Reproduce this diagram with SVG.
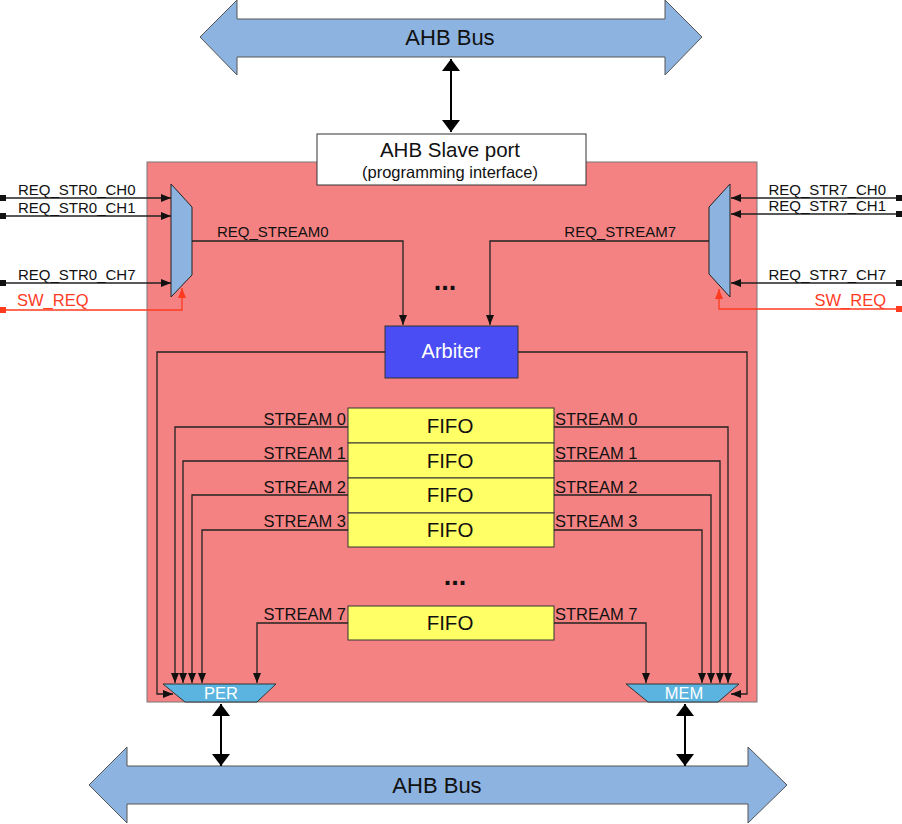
<svg xmlns="http://www.w3.org/2000/svg" width="902" height="824" viewBox="0 0 902 824">
<style>
text{font-family:"Liberation Sans",Arial,sans-serif;fill:#111}
.bus{fill:#8DB3E0;stroke:#555;stroke-width:1}
.w{stroke:#222;stroke-width:1.3;fill:none}
.r{stroke:#FF3B1F;stroke-width:1.3;fill:none}
.big{stroke:#000;stroke-width:2;fill:none}
.lbl{font-size:15px}
.slbl{font-size:16.5px}
.fifo{fill:#FFFF66;stroke:#333;stroke-width:1}
.ft{font-size:20.5px}
</style>
<defs>
<marker id="a" viewBox="0 0 10 8" refX="10" refY="4" markerWidth="10" markerHeight="8" markerUnits="userSpaceOnUse" orient="auto"><path d="M0,0L10,4L0,8z" fill="#111"/></marker>
<marker id="ar" viewBox="0 0 10 8" refX="10" refY="4" markerWidth="10" markerHeight="8" markerUnits="userSpaceOnUse" orient="auto"><path d="M0,0L10,4L0,8z" fill="#FF3B1F"/></marker>
<marker id="sq" viewBox="0 0 6 6" refX="3" refY="3" markerWidth="6" markerHeight="6" markerUnits="userSpaceOnUse"><rect width="6" height="6" fill="#111"/></marker>
<marker id="sqr" viewBox="0 0 6 6" refX="3" refY="3" markerWidth="6" markerHeight="6" markerUnits="userSpaceOnUse"><rect width="6" height="6" fill="#FF3B1F"/></marker>
<marker id="b" viewBox="0 0 12 18" refX="12" refY="9" markerWidth="12" markerHeight="18" markerUnits="userSpaceOnUse" orient="auto-start-reverse"><path d="M0,0L12,9L0,18z" fill="#000"/></marker>
</defs>

<g id="ahb-top">
<path class="bus" d="M200,37L237,0L237,19L665,19L665,0L702,37L665,75L665,57L237,57L237,75Z"/>
<text x="450" y="45" font-size="22" text-anchor="middle">AHB Bus</text>
</g>
<g id="ahb-bottom">
<path class="bus" d="M89,785L127,747L127,766L748,766L748,747L787,785L748,823L748,804L127,804L127,823Z"/>
<text x="437" y="793" font-size="22" text-anchor="middle">AHB Bus</text>
</g>

<g id="dma">
<rect x="147" y="162" width="610" height="540" fill="#F48282" stroke="#777" stroke-width="1"/>
</g>

<g id="slave-port">
<rect x="317" y="134" width="269" height="51" fill="#fff" stroke="#333" stroke-width="1"/>
<text x="450" y="157" font-size="20.5" text-anchor="middle">AHB Slave port</text>
<text x="450" y="178" font-size="16.5" text-anchor="middle">(programming interface)</text>
</g>

<g id="mux0">
<path d="M171,184L192,207L192,275L171,297Z" fill="#8DB3E0" stroke="#222" stroke-width="1"/>
</g>
<g id="mux7">
<path d="M730,184L709,207L709,274L730,297Z" fill="#8DB3E0" stroke="#222" stroke-width="1"/>
</g>

<g id="arbiter">
<rect x="385" y="326" width="133" height="52" fill="#4A4CF4" stroke="#333" stroke-width="1"/>
<text x="451" y="358" font-size="20" text-anchor="middle" style="fill:#fff">Arbiter</text>
</g>

<g id="fifos">
<rect class="fifo" x="348" y="408" width="206" height="35"/>
<rect class="fifo" x="348" y="443" width="206" height="35"/>
<rect class="fifo" x="348" y="478" width="206" height="35"/>
<rect class="fifo" x="348" y="513" width="206" height="34"/>
<rect class="fifo" x="348" y="606" width="206" height="34"/>
<text class="ft" x="450" y="433" text-anchor="middle">FIFO</text>
<text class="ft" x="450" y="468" text-anchor="middle">FIFO</text>
<text class="ft" x="450" y="502" text-anchor="middle">FIFO</text>
<text class="ft" x="450" y="537" text-anchor="middle">FIFO</text>
<text class="ft" x="450" y="630" text-anchor="middle">FIFO</text>
</g>

<g id="per">
<path d="M163,684L276,684L257,702L185,702Z" fill="#5BB4E0" stroke="#333" stroke-width="1"/>
<text x="221" y="699" font-size="16.5" text-anchor="middle" style="fill:#fff">PER</text>
</g>
<g id="mem">
<path d="M626,684L739,684L718,702L648,702Z" fill="#5BB4E0" stroke="#333" stroke-width="1"/>
<text x="684" y="699" font-size="16.5" text-anchor="middle" style="fill:#fff">MEM</text>
</g>

<g id="dots">
<text x="445" y="290" font-size="27" text-anchor="middle" font-weight="bold">...</text>
<text x="455" y="585" font-size="27" text-anchor="middle" font-weight="bold">...</text>
</g>

<g id="connectors">
<line class="big" x1="451" y1="59" x2="451" y2="132" marker-start="url(#b)" marker-end="url(#b)"/>
<line class="big" x1="221" y1="704" x2="221" y2="766" marker-start="url(#b)" marker-end="url(#b)"/>
<line class="big" x1="685" y1="704" x2="685" y2="766" marker-start="url(#b)" marker-end="url(#b)"/>

<line class="w" x1="3" y1="198" x2="171" y2="198" marker-start="url(#sq)" marker-end="url(#a)"/>
<line class="w" x1="3" y1="216" x2="171" y2="216" marker-start="url(#sq)" marker-end="url(#a)"/>
<line class="w" x1="3" y1="283" x2="171" y2="283" marker-start="url(#sq)" marker-end="url(#a)"/>
<polyline class="r" points="3,310 182,310 182,288" marker-start="url(#sqr)" marker-end="url(#ar)"/>

<line class="w" x1="899" y1="198" x2="731" y2="198" marker-start="url(#sq)" marker-end="url(#a)"/>
<line class="w" x1="899" y1="214" x2="731" y2="214" marker-start="url(#sq)" marker-end="url(#a)"/>
<line class="w" x1="899" y1="283" x2="731" y2="283" marker-start="url(#sq)" marker-end="url(#a)"/>
<polyline class="r" points="899,309 719,309 719,289" marker-start="url(#sqr)" marker-end="url(#ar)"/>

<polyline class="w" points="192,241 403,241 403,325" marker-end="url(#a)"/>
<polyline class="w" points="709,241 490,241 490,325" marker-end="url(#a)"/>

<polyline class="w" stroke-width="1.8" points="385,352 157,352 157,694 173,694" marker-end="url(#a)"/>
<polyline class="w" stroke-width="1.8" points="518,352 747,352 747,694 731,694" marker-end="url(#a)"/>

<polyline class="w" points="348,427 175,427 175,683" marker-end="url(#a)"/>
<polyline class="w" points="348,461 183,461 183,683" marker-end="url(#a)"/>
<polyline class="w" points="348,495 192,495 192,683" marker-end="url(#a)"/>
<polyline class="w" points="348,530 202,530 202,683" marker-end="url(#a)"/>
<polyline class="w" points="348,623 257,623 257,683" marker-end="url(#a)"/>

<polyline class="w" points="554,427 728,427 728,683" marker-end="url(#a)"/>
<polyline class="w" points="554,461 720,461 720,683" marker-end="url(#a)"/>
<polyline class="w" points="554,495 711,495 711,683" marker-end="url(#a)"/>
<polyline class="w" points="554,530 702,530 702,683" marker-end="url(#a)"/>
<polyline class="w" points="554,623 646,623 646,683" marker-end="url(#a)"/>
</g>

<g id="labels">
<text class="lbl" x="18" y="195">REQ_STR0_CH0</text>
<text class="lbl" x="18" y="213">REQ_STR0_CH1</text>
<text class="lbl" x="18" y="280">REQ_STR0_CH7</text>
<text x="17" y="306" font-size="16.5" style="fill:#FF3B1F">SW_REQ</text>
<text class="lbl" x="886" y="195" text-anchor="end">REQ_STR7_CH0</text>
<text class="lbl" x="886" y="211" text-anchor="end">REQ_STR7_CH1</text>
<text class="lbl" x="886" y="280" text-anchor="end">REQ_STR7_CH7</text>
<text x="886" y="306" font-size="16.5" text-anchor="end" style="fill:#FF3B1F">SW_REQ</text>
<text class="lbl" x="217" y="237">REQ_STREAM0</text>
<text class="lbl" x="676" y="237" text-anchor="end">REQ_STREAM7</text>
<text class="slbl" x="346" y="425" text-anchor="end">STREAM 0</text>
<text class="slbl" x="346" y="459" text-anchor="end">STREAM 1</text>
<text class="slbl" x="346" y="493" text-anchor="end">STREAM 2</text>
<text class="slbl" x="346" y="527" text-anchor="end">STREAM 3</text>
<text class="slbl" x="346" y="620" text-anchor="end">STREAM 7</text>
<text class="slbl" x="555" y="425">STREAM 0</text>
<text class="slbl" x="555" y="459">STREAM 1</text>
<text class="slbl" x="555" y="493">STREAM 2</text>
<text class="slbl" x="555" y="527">STREAM 3</text>
<text class="slbl" x="555" y="620">STREAM 7</text>
</g>
</svg>
